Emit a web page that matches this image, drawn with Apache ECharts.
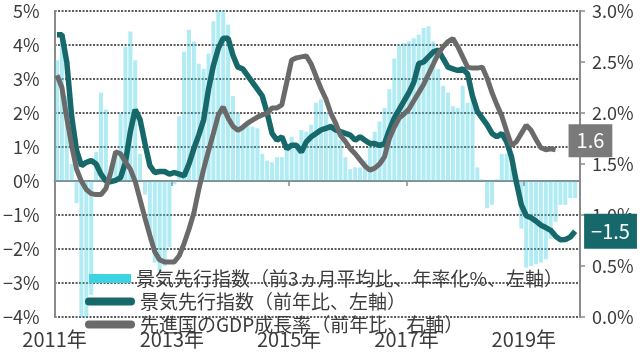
<!DOCTYPE html>
<html><head><meta charset="utf-8">
<script src="https://cdn.jsdelivr.net/npm/echarts@6/dist/echarts.min.js"></script>
<style>html,body{margin:0;padding:0;background:#fff}#c{width:640px;height:354px}</style>
</head><body><div id="c"></div>
<script>
// Monthly data, Jan 2011 onward
const startYear = 2011;
const xTickLabels = ['2011年', '2013年', '2015年', '2017年', '2019年'];
const seriesNames = ['景気先行指数（前3ヵ月平均比、年率化%、左軸）', '景気先行指数（前年比、左軸）', '先進国のGDP成長率（前年比、右軸）'];
// 景気先行指数（前3ヵ月平均比、年率化%）
const lead3m = [3.55, 4.2, 2.5, 0.5, -0.65, -4.5, -4.5, -3.35, 0.85, 2.6,
 2.1, 0.45, 0.8, 2.0, 3.95, 4.4, 3.55, 0.8, -0.4, -1.75,
 -2.4, -2.65, -2.5, -1.95, -0.1, 1.9, 3.8, 4.45, 4.1, 3.45,
 3.3, 3.75, 4.7, 5.3, 5.3, 4.6, 2.5, 2.0, 1.65, 1.7,
 1.6, 1.55, 0.8, 0.6, 0.55, 0.7, 0.7, 1.0, 1.3, 1.1,
 1.5, 1.45, 1.65, 2.3, 2.4, 2.0, 1.7, 1.45, 1.2, 0.7,
 0.35, 0.4, 0.4, 0.6, 1.0, 1.45, 1.75, 2.15, 2.7, 3.6,
 4.0, 4.05, 4.1, 4.2, 4.3, 4.5, 4.55, 4.1, 3.3, 2.8,
 2.6, 2.2, 2.15, 2.8, 2.3, 2.4, 0.4, 0.05, -0.8, -0.7,
 0.05, 0.8, 0.8, 0.4, 0.1, -1.4, -2.55, -2.5, -2.45, -2.4,
 -2.3, -1.7, -1.2, -0.7, -0.7, -0.5, -0.5];
// 景気先行指数（前年比）
const leadYoY = [4.3, 4.3, 3.5, 1.9, 0.9, 0.45, 0.55, 0.6, 0.5, 0.2,
 0.0, -0.02, 0.02, 0.1, 0.55, 1.45, 2.1, 1.8, 1.1, 0.45,
 0.25, 0.28, 0.28, 0.2, 0.25, 0.2, 0.15, 0.5, 0.95, 1.35,
 1.8, 2.7, 3.4, 3.9, 4.2, 4.2, 3.7, 3.35, 3.3, 3.1,
 2.9, 2.7, 2.5, 2.0, 1.4, 1.2, 1.3, 0.95, 1.05, 1.05,
 0.85, 1.15, 1.3, 1.4, 1.5, 1.55, 1.6, 1.5, 1.45, 1.4,
 1.35, 1.2, 1.3, 1.2, 1.1, 1.1, 1.05, 1.1, 1.5, 1.85,
 2.1, 2.35, 2.6, 2.9, 3.45, 3.5, 3.65, 3.8, 3.85, 3.6,
 3.35, 3.3, 3.25, 3.3, 3.15, 2.5, 2.05, 1.85, 1.65, 1.4,
 1.3, 1.4, 1.15, 0.7, -0.05, -0.7, -1.02, -1.08, -1.18, -1.3,
 -1.37, -1.45, -1.62, -1.73, -1.72, -1.65, -1.48];
// 先進国のGDP成長率（前年比）
const gdpAdv = [2.37, 2.25, 1.95, 1.68, 1.45, 1.33, 1.25, 1.21, 1.2, 1.2,
 1.26, 1.42, 1.62, 1.6, 1.52, 1.45, 1.33, 1.15, 0.97, 0.8,
 0.64, 0.56, 0.54, 0.54, 0.54, 0.6, 0.72, 0.86, 1.02, 1.25,
 1.45, 1.63, 1.8, 1.98, 2.06, 1.95, 1.87, 1.83, 1.86, 1.9,
 1.93, 1.96, 1.98, 2.0, 2.05, 2.05, 2.08, 2.3, 2.52, 2.54,
 2.55, 2.56, 2.48, 2.36, 2.24, 2.14, 2.0, 1.9, 1.78, 1.72,
 1.65, 1.6, 1.54, 1.48, 1.44, 1.46, 1.5, 1.57, 1.75, 1.86,
 1.95, 1.99, 2.04, 2.12, 2.2, 2.28, 2.38, 2.48, 2.58, 2.65,
 2.7, 2.73, 2.65, 2.55, 2.45, 2.44, 2.44, 2.45, 2.34, 2.2,
 2.08, 1.97, 1.82, 1.68, 1.72, 1.8, 1.88, 1.83, 1.74, 1.66,
 1.64, 1.65, 1.64];

const toXY = arr => arr.map((v, i) => [i + 0.5, v]);
const FONT = '"Noto Sans CJK JP", "Noto Sans", sans-serif';
const TXT = '#3c3c3c';
const fmtEnd = v => v.toFixed(1).replace('-', '−');

const chart = echarts.init(document.getElementById('c'), null, {renderer: 'canvas'});
const legendBase = {orient: 'vertical', selectedMode: false, textStyle: {fontSize: 19, color: TXT, fontFamily: FONT}, padding: 0};
const capsule = 'path://M4,0 H46 A4,4 0 0 1 46,8 H4 A4,4 0 0 1 4,0 Z';
chart.setOption({
  animation: false,
  textStyle: {fontFamily: FONT},
  grid: {left: 49, right: 60, top: 11, bottom: 37},
  legend: [
    Object.assign({}, legendBase, {left: 89, top: 269, itemWidth: 42, itemHeight: 9, itemGap: 9,
      data: [{name: seriesNames[0], icon: 'rect', itemStyle: {color: '#3dd3e3', opacity: 1}}]}),
    Object.assign({}, legendBase, {left: 85, top: 292, itemWidth: 50, itemHeight: 8, itemGap: 5,
      data: [{name: seriesNames[1], icon: capsule}]}),
    Object.assign({}, legendBase, {left: 85, top: 315, itemWidth: 50, itemHeight: 8, itemGap: 5,
      data: [{name: seriesNames[2], icon: capsule}]})
  ],
  xAxis: [
    {type: 'value', min: 0, max: 107.5, interval: 24,
     axisLine: {show: true, onZero: true, onZeroAxisIndex: 0, lineStyle: {color: '#8a8a8a', width: 2}},
     axisTick: {show: true, length: 5, lineStyle: {color: '#8a8a8a', width: 1.5}},
     axisLabel: {show: false}, splitLine: {show: false}},
    {type: 'value', min: 0, max: 107.5, interval: 24, position: 'bottom',
     axisLine: {show: false, onZero: false}, axisTick: {show: false}, splitLine: {show: false},
     axisLabel: {show: true, margin: 12, fontSize: 20, color: TXT, fontFamily: FONT,
       formatter: v => (v % 24 === 0 ? xTickLabels[v / 24] : '')}}
  ],
  yAxis: [
    {type: 'value', min: -4, max: 5, interval: 1, position: 'left',
     axisLine: {show: true, onZero: false, lineStyle: {color: '#8a8a8a', width: 2}},
     axisTick: {show: false},
     axisLabel: {margin: 15, fontSize: 18, color: TXT, fontFamily: FONT,
       formatter: v => (v < 0 ? '−' + Math.abs(v) : v) + '%'},
     splitLine: {show: true, lineStyle: {color: '#5a5a5a', width: 2, type: [2, 1.5]}}},
    {type: 'value', min: 0, max: 3, interval: 0.5, position: 'right',
     axisLine: {show: true, onZero: false, lineStyle: {color: '#8a8a8a', width: 2}},
     axisTick: {show: true, length: 5, lineStyle: {color: '#8a8a8a', width: 1.5}},
     axisLabel: {margin: 12, fontSize: 18, color: TXT, fontFamily: FONT,
       formatter: v => v.toFixed(1) + '%'},
     splitLine: {show: false}}
  ],
  series: [
    {name: seriesNames[0], type: 'bar', xAxisIndex: 0, yAxisIndex: 0, barWidth: 4,
     itemStyle: {color: 'rgba(70,208,226,0.42)'}, data: toXY(lead3m)},
    {name: seriesNames[1], type: 'line', xAxisIndex: 0, yAxisIndex: 0, symbol: 'none',
     lineStyle: {color: '#17686a', width: 5.5}, itemStyle: {color: '#17686a'},
     endLabel: {show: true, formatter: p => fmtEnd(p.value[1]), backgroundColor: '#17686a', color: '#fff',
       fontSize: 20, fontFamily: FONT, padding: [8, 7, 7, 7], distance: 9},
     data: toXY(leadYoY)},
    {name: seriesNames[2], type: 'line', xAxisIndex: 0, yAxisIndex: 1, symbol: 'none',
     lineStyle: {color: '#6a6a6a', width: 5}, itemStyle: {color: '#6a6a6a'},
     endLabel: {show: true, formatter: p => fmtEnd(p.value[1]), backgroundColor: '#7a7a7a', color: '#fff',
       fontSize: 20, fontFamily: FONT, padding: [7, 8, 6, 8], distance: 13, offset: [0, -9]},
     labelLine: {show: true, lineStyle: {color: '#444', width: 1.5}},
     data: toXY(gdpAdv)}
  ]
});
</script></body></html>
